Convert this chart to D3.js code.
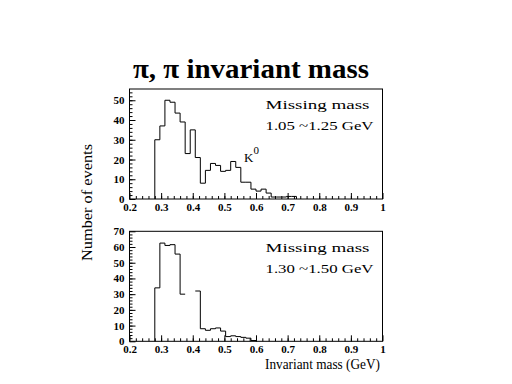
<!DOCTYPE html>
<html>
<head>
<meta charset="utf-8">
<style>
  body { margin: 0; background: #fff; }
  svg { display: block; }
  .frame { fill: none; stroke: #000; stroke-width: 1px; }
  .hist { fill: none; stroke: #000; stroke-width: 1px; }
  .axis path { display: none; }
  .axis line { stroke: #000; }
  .axis text { font-family: "Liberation Serif", serif; font-weight: bold; font-size: 11px; fill: #000; }
  .lbl { font-family: "Liberation Serif", serif; fill: #000; }
</style>
<script src="https://cdn.jsdelivr.net/npm/d3@7"></script>
</head>
<body>
<svg width="512" height="384"></svg>
<script>
// histogram bins: 0.016 GeV wide, first filled bin starts at 0.28
var binStart = 0.28;
var binWidth = 0.016;
var topCounts = [30, 37, 50, 49, 43.5, 39, 23, 35, 21, 8, 14.5, 18, 17, 14, 14.5, 19, 16, 8.5, 8.5, 5, 4, 5, 3, 1, 1, 1, 1.3, 1.3];
var bottomCounts = [34, 62.5, 61, 61.5, 55.5, 30, null, null, 32, 8, 7, 8, 8.5, 6.5, 3, 3.5, 3, 2.5, 2, 0.5];
var xTicks = [0.2, 0.3, 0.4, 0.5, 0.6, 0.7, 0.8, 0.9, 1];
var topYTicks = [0, 10, 20, 30, 40, 50];
var bottomYTicks = [0, 10, 20, 30, 40, 50, 60, 70];

var svg = d3.select("svg");

var x = d3.scaleLinear().domain([0.2, 1]).range([129.5, 382.5]);

function stepPoints(counts) {
  var pts = [[binStart, 0]];
  counts.forEach(function(v, i) {
    var x0 = binStart + i * binWidth, x1 = x0 + binWidth;
    pts.push([x0, v], [x1, v]);
  });
  pts.push([binStart + counts.length * binWidth, 0]);
  return pts;
}

function panel(counts, yMax, top, bottom, yTicks, lines) {
  var y = d3.scaleLinear().domain([0, yMax]).range([bottom, top]);
  var g = svg.append("g");

  g.append("rect").attr("class", "frame")
    .attr("x", x(0.2)).attr("y", y(yMax))
    .attr("width", x(1) - x(0.2)).attr("height", y(0) - y(yMax));

  // minor ticks
  g.append("g").attr("class", "axis")
    .attr("transform", "translate(0," + y(0) + ")")
    .call(d3.axisBottom(x).tickValues(d3.range(0.22, 1, 0.02)).tickSize(-3).tickFormat(""));
  g.append("g").attr("class", "axis")
    .attr("transform", "translate(" + x(0.2) + ",0)")
    .call(d3.axisLeft(y).tickValues(d3.range(2, yMax, 2)).tickSize(-3).tickFormat(""));

  // major ticks with labels
  g.append("g").attr("class", "axis")
    .attr("transform", "translate(0," + y(0) + ")")
    .call(d3.axisBottom(x).tickValues(xTicks).tickSize(-6).tickPadding(4).tickFormat(d3.format("")));
  g.append("g").attr("class", "axis")
    .attr("transform", "translate(" + x(0.2) + ",0)")
    .call(d3.axisLeft(y).tickValues(yTicks).tickSize(-6).tickPadding(5));

  var line = d3.line()
    .defined(function(d) { return d[1] !== null; })
    .x(function(d) { return x(d[0]); })
    .y(function(d) { return y(d[1]); });
  g.append("path").attr("class", "hist").attr("d", line(stepPoints(counts)));

  lines.forEach(function(t) {
    g.append("text").attr("class", "lbl")
      .attr("x", 265.5).attr("y", t.y)
      .attr("font-size", 13)
      .attr("textLength", t.len).attr("lengthAdjust", "spacingAndGlyphs")
      .text(t.s);
  });
  return y;
}

svg.append("text").attr("class", "lbl")
  .attr("x", 133).attr("y", 78)
  .attr("font-size", 27).attr("font-weight", "bold")
  .attr("textLength", 236).attr("lengthAdjust", "spacingAndGlyphs")
  .text("\u03c0, \u03c0 invariant mass");

panel(topCounts, 55.7, 89, 199, topYTicks, [
  {s: "Missing mass", y: 109, len: 104},
  {s: "1.05 ~1.25 GeV", y: 130, len: 108}
]);

var k = svg.append("text").attr("class", "lbl")
  .attr("x", 244).attr("y", 162).attr("font-size", 13);
k.append("tspan").text("K");
k.append("tspan").attr("dy", -8).attr("font-size", 11).text("0");

panel(bottomCounts, 70, 231.3, 341.3, bottomYTicks, [
  {s: "Missing mass", y: 252, len: 104},
  {s: "1.30 ~1.50 GeV", y: 273, len: 108}
]);

svg.append("text").attr("class", "lbl")
  .attr("x", 265).attr("y", 369)
  .attr("font-size", 14)
  .attr("textLength", 115).attr("lengthAdjust", "spacingAndGlyphs")
  .text("Invariant mass (GeV)");

svg.append("text").attr("class", "lbl")
  .attr("transform", "translate(92,261) rotate(-90)")
  .attr("font-size", 14)
  .attr("textLength", 117).attr("lengthAdjust", "spacingAndGlyphs")
  .text("Number of events");
</script>
</body>
</html>
